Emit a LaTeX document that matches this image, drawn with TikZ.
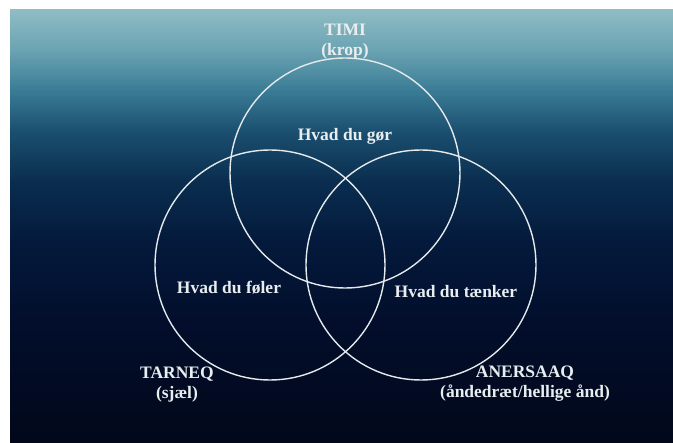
\documentclass[tikz,border=0pt]{standalone}
\usepackage{fontspec}
\setmainfont{Liberation Serif}
\definecolor{g0}{HTML}{8FBCC4}
\definecolor{g1}{HTML}{6AA3B2}
\definecolor{g2}{HTML}{3A7C96}
\definecolor{g3}{HTML}{1B5070}
\definecolor{g4}{HTML}{0A2E50}
\definecolor{g5}{HTML}{041A3C}
\definecolor{g6}{HTML}{020E2C}
\definecolor{g7}{HTML}{02081A}
\definecolor{txt}{HTML}{E8EEF0}
\definecolor{ringc}{HTML}{E4E9EC}
\begin{document}
\begin{tikzpicture}[x=1pt,y=-1pt,
  lbl/.style={font=\bfseries\fontsize{17.5}{20}\selectfont, text=txt, align=center, inner sep=0pt},
  ring/.style={circle, draw=ringc, line width=1.4pt, minimum size=230pt, inner sep=0pt}]
\useasboundingbox (0,0) rectangle (673,443);
\fill[white] (0,0) rectangle (673,443);
\shade[top color=g0, bottom color=g1] (10,10) rectangle (673,50.5);
\shade[top color=g1, bottom color=g2] (10,50) rectangle (673,90.5);
\shade[top color=g2, bottom color=g3] (10,90) rectangle (673,130.5);
\shade[top color=g3, bottom color=g4] (10,130) rectangle (673,180.5);
\shade[top color=g4, bottom color=g5] (10,180) rectangle (673,240.5);
\shade[top color=g5, bottom color=g6] (10,240) rectangle (673,320.5);
\shade[top color=g6, bottom color=g7] (10,320) rectangle (673,443);
\node[ring] (timi) at (345,173) {};
\node[ring] (tarneq) at (270,265) {};
\node[ring] (anersaaq) at (421,265) {};
\node[lbl] (ltimi) at (345,42) {TIMI\\(krop)};
\node[lbl] (ltarneq) at (177,384.5) {TARNEQ\\(sjæl)};
\node[lbl] (lanersaaq) at (525,384) {ANERSAAQ\\(åndedræt/hellige ånd)};
\node[lbl] (gor) at (345,136) {Hvad du gør};
\node[lbl] (foler) at (229,288) {Hvad du føler};
\node[lbl] (taenker) at (456,292) {Hvad du tænker};
\end{tikzpicture}
\end{document}
